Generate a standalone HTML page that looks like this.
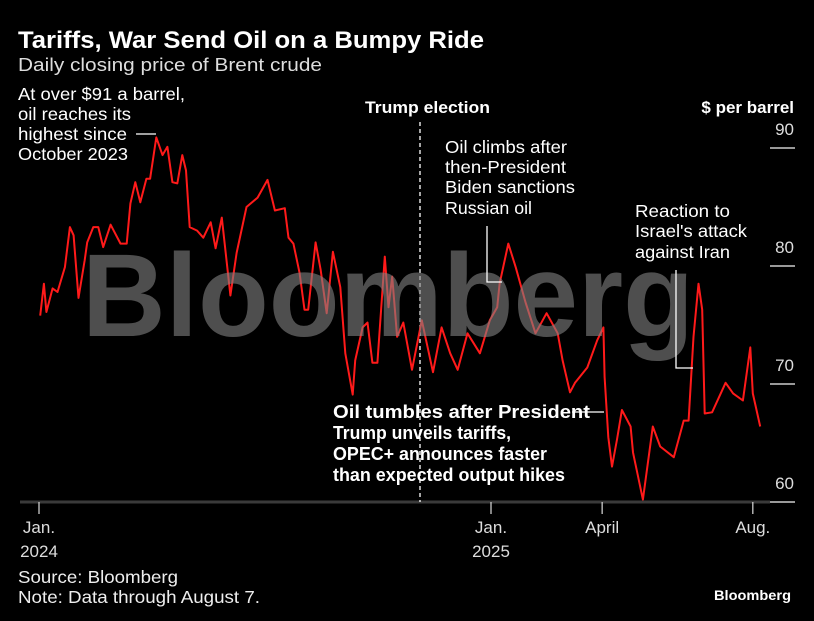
<!DOCTYPE html>
<html><head><meta charset="utf-8">
<style>
html,body{margin:0;padding:0;background:#000;}
svg{display:block;font-family:"Liberation Sans",sans-serif;}
</style></head>
<body>
<svg id="chart" width="814" height="621" viewBox="0 0 814 621">
  <text x="18" y="48" fill="#fff" font-size="24" font-weight="bold" textLength="466" lengthAdjust="spacingAndGlyphs">Tariffs, War Send Oil on a Bumpy Ride</text>
  <text x="18" y="71" fill="#ddd" font-size="18.5" textLength="304" lengthAdjust="spacingAndGlyphs">Daily closing price of Brent crude</text>

  <line x1="20" y1="502" x2="770" y2="502" stroke="#3a3a3a" stroke-width="3"/>
  <g id="xticks"></g>
  <g id="yticks"></g>
  <text x="794" y="113" fill="#fff" font-size="17" font-weight="bold" text-anchor="end">$ per barrel</text>

  <line x1="420" y1="122" x2="420" y2="502" stroke="#fff" stroke-width="1.3" stroke-dasharray="4,3"/>
  <text x="365" y="113" fill="#fff" font-size="17" font-weight="bold" textLength="125" lengthAdjust="spacingAndGlyphs">Trump election</text>

  <path id="price-line" fill="none" stroke="#ff1a1a" stroke-width="2" stroke-linejoin="round"/>

  <text x="388" y="336" fill="rgba(130,130,130,0.6)" font-size="118" font-weight="bold" text-anchor="middle" textLength="612" lengthAdjust="spacingAndGlyphs">Bloomberg</text>

  <g fill="#fff" font-size="17.5">
    <text x="18" y="100" textLength="167" lengthAdjust="spacingAndGlyphs">At over $91 a barrel,</text>
    <text x="18" y="120" textLength="113" lengthAdjust="spacingAndGlyphs">oil reaches its</text>
    <text x="18" y="140" textLength="109" lengthAdjust="spacingAndGlyphs">highest since</text>
    <text x="18" y="160" textLength="110" lengthAdjust="spacingAndGlyphs">October 2023</text>
  </g>
  <line x1="136" y1="134" x2="156" y2="134" stroke="#fff" stroke-width="1.3"/>

  <g fill="#fff" font-size="17.5">
    <text x="445" y="153" textLength="122" lengthAdjust="spacingAndGlyphs">Oil climbs after</text>
    <text x="445" y="173" textLength="121" lengthAdjust="spacingAndGlyphs">then-President</text>
    <text x="445" y="193" textLength="130" lengthAdjust="spacingAndGlyphs">Biden sanctions</text>
    <text x="445" y="214" textLength="87" lengthAdjust="spacingAndGlyphs">Russian oil</text>
  </g>
  <polyline points="487,226 487,282 502,282" fill="none" stroke="#fff" stroke-width="1.3"/>

  <g fill="#fff" font-size="17.5">
    <text x="635" y="217" textLength="95" lengthAdjust="spacingAndGlyphs">Reaction to</text>
    <text x="635" y="237" textLength="112" lengthAdjust="spacingAndGlyphs">Israel's attack</text>
    <text x="635" y="258" textLength="95" lengthAdjust="spacingAndGlyphs">against Iran</text>
  </g>
  <polyline points="676,270 676,368 693,368" fill="none" stroke="#fff" stroke-width="1.3"/>

  <g fill="#fff" font-size="18" font-weight="bold">
    <text x="333" y="418" textLength="257" lengthAdjust="spacingAndGlyphs">Oil tumbles after President</text>
    <text x="333" y="439" textLength="178" lengthAdjust="spacingAndGlyphs">Trump unveils tariffs,</text>
    <text x="333" y="460" textLength="214" lengthAdjust="spacingAndGlyphs">OPEC+ announces faster</text>
    <text x="333" y="481" textLength="232" lengthAdjust="spacingAndGlyphs">than expected output hikes</text>
  </g>
  <line x1="572" y1="412" x2="604" y2="412" stroke="#fff" stroke-width="1.3"/>

  <g fill="#eee" font-size="17.5">
    <text x="18" y="583" textLength="160" lengthAdjust="spacingAndGlyphs">Source: Bloomberg</text>
    <text x="18" y="603" textLength="242" lengthAdjust="spacingAndGlyphs">Note: Data through August 7.</text>
  </g>
  <text x="791" y="600" fill="#fff" font-size="14" font-weight="bold" text-anchor="end" textLength="77" lengthAdjust="spacingAndGlyphs">Bloomberg</text>
</svg>
<script>
// days since Jan 1 2024
const days = [1,4,6,11,15,21,25,28,32,37,39,44,48,52,58,66,71,74,78,82,87,90,95,100,104,108,112,116,119,122,128,133,139,143,148,155,160,168,177,185,191,199,202,206,211,215,218,224,228,233,238,244,248,254,256,262,266,270,274,280,283,286,290,295,302,310,319,326,333,339,347,357,365,371,373,380,386,394,402,411,420,424,430,434,444,452,457,458,461,464,468,472,479,481,489,497,503,514,522,526,530,534,537,539,545,556,562,570,576,578,584];
const prices = [75.8,78.5,76.1,78.1,77.8,79.9,83.3,82.6,77.3,80.5,82.0,83.3,83.3,81.6,83.5,81.9,81.9,85.3,87.1,85.4,87.4,87.4,90.9,89.4,90.1,87.1,87.0,89.4,88.1,83.3,83.0,82.4,83.7,81.5,84.1,77.5,81.1,85.0,85.8,87.3,84.7,84.9,82.4,81.9,79.4,76.3,76.3,82.0,79.7,76.0,81.2,78.2,72.6,69.1,72.0,74.8,75.2,71.8,71.8,80.8,76.5,79.1,74.0,75.2,71.2,75.4,71.0,74.8,72.6,71.2,74.3,72.6,75.4,76.5,78.5,81.9,79.9,76.9,74.3,76.0,74.3,72.0,69.3,70.1,71.4,73.7,74.8,70.6,65.5,63.0,65.3,67.8,66.4,64.2,60.2,66.4,64.7,63.8,66.9,66.9,74.0,78.5,76.3,67.5,67.6,70.1,69.2,68.6,73.1,69.2,66.4];
const yTicks = [60,70,80,90];
const xTickLabels = [["Jan.","2024"],["Jan.","2025"],["April",""],["Aug.",""]];
const xTickDays = [0,366,456,578];

const NS = "http://www.w3.org/2000/svg";
const x = d => 39 + (d/366)*452;
const y = v => 502 - (v-60)*11.8;

let dstr = "";
for (let i=0;i<days.length;i++){ dstr += (i?"L":"M") + x(days[i]).toFixed(1) + "," + y(prices[i]).toFixed(1); }
document.getElementById("price-line").setAttribute("d", dstr);

const yg = document.getElementById("yticks");
yTicks.forEach(v=>{
  const l=document.createElementNS(NS,"line");
  l.setAttribute("x1",770);l.setAttribute("x2",795);l.setAttribute("y1",y(v));l.setAttribute("y2",y(v));
  l.setAttribute("stroke","#ccc");l.setAttribute("stroke-width","1.5");
  
  
  yg.appendChild(l);
  const t=document.createElementNS(NS,"text");
  t.setAttribute("x",794);t.setAttribute("y",y(v)-13);t.setAttribute("text-anchor","end");
  t.setAttribute("fill","#ddd");t.setAttribute("font-size","17");t.textContent=v;
  
  
  yg.appendChild(t);
});

const xg = document.getElementById("xticks");
xTickDays.forEach((d,i)=>{
  const l=document.createElementNS(NS,"line");
  l.setAttribute("x1",x(d));l.setAttribute("x2",x(d));l.setAttribute("y1",502);l.setAttribute("y2",514);
  l.setAttribute("stroke","#ccc");l.setAttribute("stroke-width","1.3");
  
  
  xg.appendChild(l);
  xTickLabels[i].forEach((s,j)=>{
    if(!s) return;
    const t=document.createElementNS(NS,"text");
    t.setAttribute("x",x(d));t.setAttribute("y",533+j*24);t.setAttribute("text-anchor","middle");
    t.setAttribute("fill","#ddd");t.setAttribute("font-size","17");t.textContent=s;
    
    
    xg.appendChild(t);
  });
});
</script>
</body></html>
